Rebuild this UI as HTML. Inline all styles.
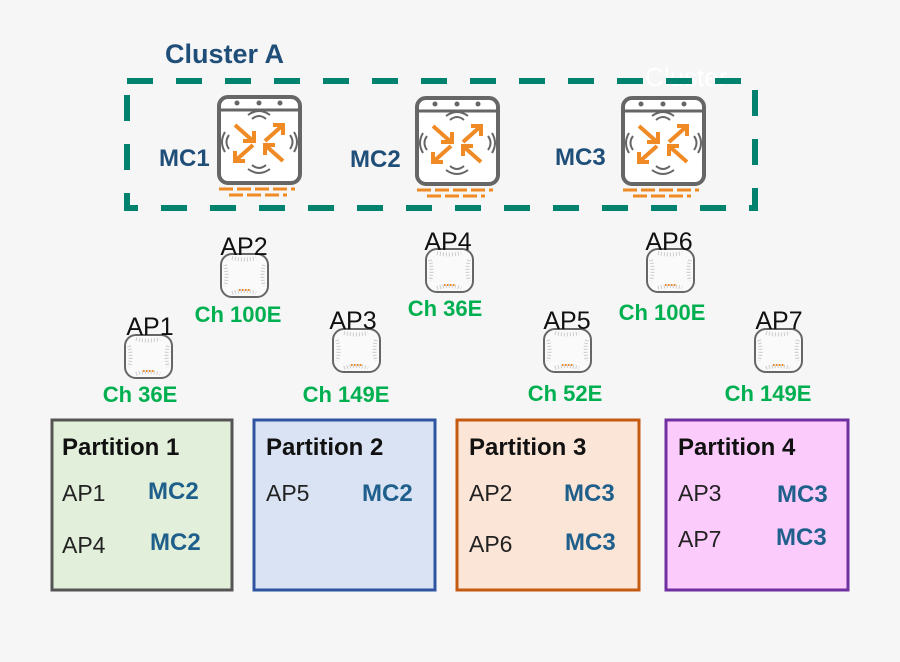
<!DOCTYPE html>
<html><head><meta charset="utf-8"><style>
html,body{margin:0;padding:0;background:#f6f6f6;}
svg{display:block;font-family:"Liberation Sans",sans-serif;}
.g{fill:#00b050;font-weight:bold;font-size:22px;text-anchor:middle;}
.ap{fill:#111;font-size:25px;text-anchor:middle;}
.mc{fill:#1f4e79;font-weight:bold;font-size:24px;}
.pt{fill:#111;font-weight:bold;font-size:24px;}
.t{fill:#222;font-size:23px;}
.pm{fill:#1f5f8b;font-weight:bold;font-size:24px;}
</style></head><body>
<svg width="900" height="662" viewBox="0 0 900 662" xmlns="http://www.w3.org/2000/svg">
<defs>
<g id="mc">
 <rect x="2" y="2" width="81" height="86" rx="9" fill="#fff" stroke="#666" stroke-width="4"/>
 <line x1="2" y1="15" x2="83" y2="15" stroke="#666" stroke-width="3"/>
 <circle cx="20" cy="8" r="2.5" fill="#666"/><circle cx="42" cy="8" r="2.5" fill="#666"/><circle cx="63" cy="8" r="2.5" fill="#666"/>
 <g fill="none" stroke="#666" stroke-width="2">
  <path d="M35 24 Q42 18 49 24"/><path d="M31 20 Q42 12 53 20"/>
  <path d="M35 70 Q42 76 49 70"/><path d="M31 74 Q42 82 53 74"/>
  <path d="M12 40 Q7 47 12 54"/><path d="M8 37 Q2 47 8 57"/>
  <path d="M73 40 Q78 47 73 54"/><path d="M77 37 Q83 47 77 57"/>
 </g>
 <g stroke="#f08a24" stroke-width="4" fill="none">
  <line x1="18" y1="30" x2="36" y2="46"/><path d="M26 46 L37 46 L37 36"/>
  <line x1="66" y1="30" x2="48" y2="46"/><path d="M56 30 L66 30 L66 40"/>
  <line x1="18" y1="66" x2="36" y2="50"/><path d="M18 56 L18 66 L28 66"/>
  <line x1="66" y1="66" x2="48" y2="50"/><path d="M48 60 L48 50 L58 50"/>
 </g>
 <g stroke="#f08a24" stroke-width="3">
  <line x1="2" y1="94" x2="78" y2="94" stroke-dasharray="14 4"/>
  <line x1="12" y1="100" x2="70" y2="100" stroke-dasharray="14 4"/>
 </g>
</g>
<g id="ap">
 <rect x="1" y="1" width="47" height="43" rx="11" fill="#fafafa" stroke="#666" stroke-width="2"/>
 <g stroke="#ccc" stroke-width="4" stroke-dasharray="1 2" fill="none">
  <path d="M12 5 Q24 8 36 5"/><path d="M12 40 Q24 36 36 40"/>
  <path d="M5 12 Q8 22 5 33"/><path d="M44 12 Q41 22 44 33"/>
 </g>
 <line x1="19" y1="37" x2="30" y2="37" stroke="#f08a24" stroke-width="2" stroke-dasharray="1.5 1.5"/>
</g>
</defs>

<text x="165" y="63" fill="#1f4e79" font-weight="bold" font-size="27">Cluster A</text>
<text x="645" y="86" fill="#fff" font-size="26">Cluster</text>
<rect x="127" y="81" width="628" height="127" fill="none" stroke="#00826f" stroke-width="6" stroke-dasharray="26 23"/>

<use href="#mc" x="217" y="95"/>
<use href="#mc" x="415" y="96"/>
<use href="#mc" x="621" y="96"/>
<text class="mc" x="159" y="166">MC1</text>
<text class="mc" x="350" y="167">MC2</text>
<text class="mc" x="555" y="165">MC3</text>

<use href="#ap" x="220" y="253"/><text class="ap" x="244" y="255">AP2</text><text class="g" x="238" y="322">Ch 100E</text>
<use href="#ap" x="124" y="334"/><text class="ap" x="150" y="335">AP1</text><text class="g" x="140" y="402">Ch 36E</text>
<use href="#ap" x="332" y="328"/><text class="ap" x="353" y="329">AP3</text><text class="g" x="346" y="402">Ch 149E</text>
<use href="#ap" x="425" y="248"/><text class="ap" x="448" y="250">AP4</text><text class="g" x="445" y="316">Ch 36E</text>
<use href="#ap" x="543" y="328"/><text class="ap" x="567" y="329">AP5</text><text class="g" x="565" y="401">Ch 52E</text>
<use href="#ap" x="646" y="248"/><text class="ap" x="669" y="250">AP6</text><text class="g" x="662" y="320">Ch 100E</text>
<use href="#ap" x="754" y="328"/><text class="ap" x="779" y="329">AP7</text><text class="g" x="768" y="401">Ch 149E</text>

<rect x="52" y="420" width="180" height="170" fill="#e2efda" stroke="#555" stroke-width="3"/>
<text class="pt" x="62" y="455">Partition 1</text>
<text class="t" x="62" y="501">AP1</text><text class="pm" x="148" y="499">MC2</text>
<text class="t" x="62" y="553">AP4</text><text class="pm" x="150" y="550">MC2</text>

<rect x="254" y="420" width="181" height="170" fill="#dae3f3" stroke="#2f55a0" stroke-width="3"/>
<text class="pt" x="266" y="455">Partition 2</text>
<text class="t" x="266" y="501">AP5</text><text class="pm" x="362" y="501">MC2</text>

<rect x="457" y="420" width="182" height="170" fill="#fbe5d6" stroke="#c55a11" stroke-width="3"/>
<text class="pt" x="469" y="455">Partition 3</text>
<text class="t" x="469" y="501">AP2</text><text class="pm" x="564" y="501">MC3</text>
<text class="t" x="469" y="552">AP6</text><text class="pm" x="565" y="550">MC3</text>

<rect x="666" y="420" width="182" height="170" fill="#fbcbfc" stroke="#7030a0" stroke-width="3"/>
<text class="pt" x="678" y="455">Partition 4</text>
<text class="t" x="678" y="501">AP3</text><text class="pm" x="777" y="502">MC3</text>
<text class="t" x="678" y="547">AP7</text><text class="pm" x="776" y="545">MC3</text>
</svg>
</body></html>
